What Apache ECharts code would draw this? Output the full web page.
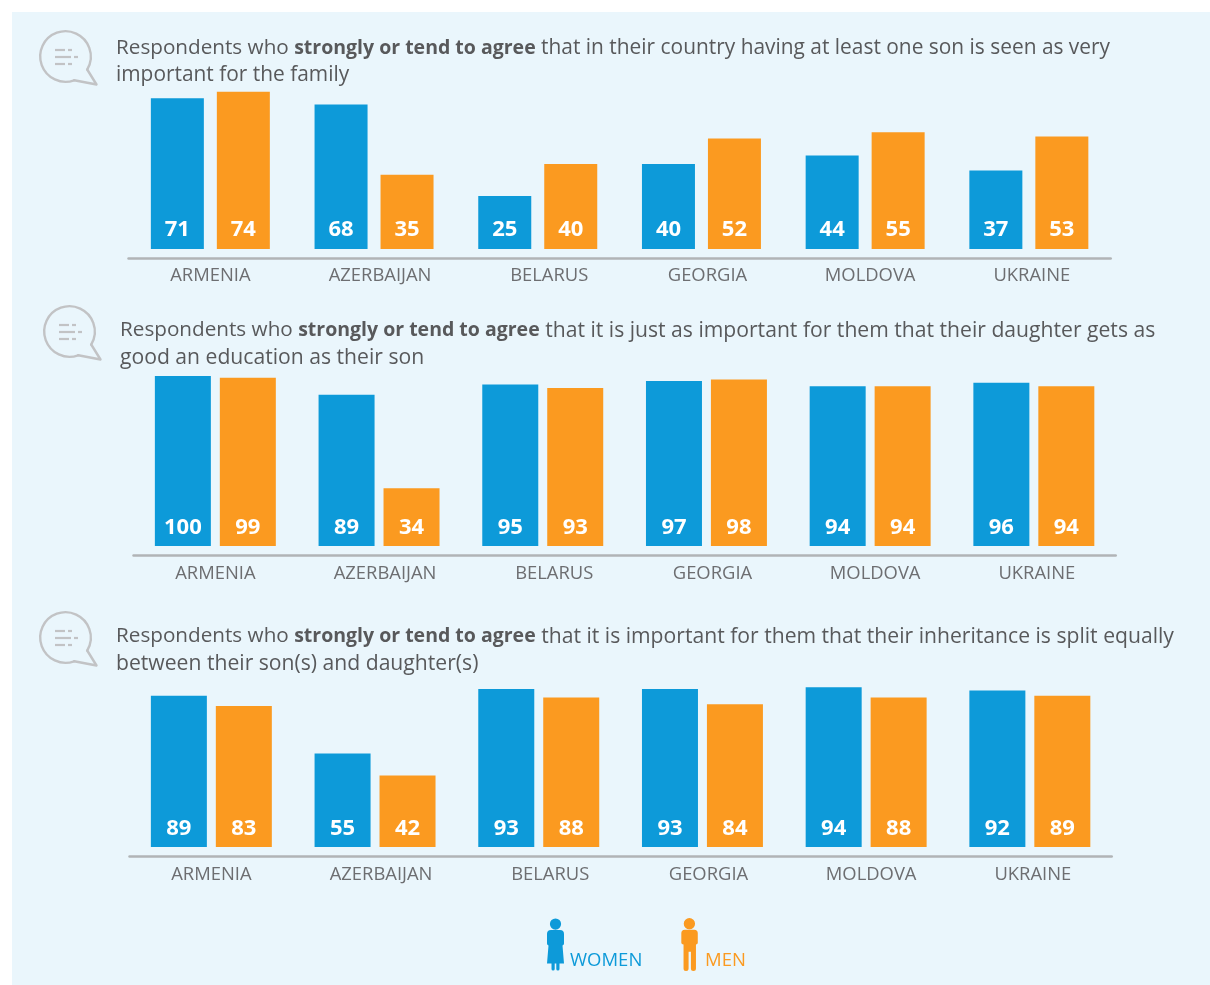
<!DOCTYPE html>
<html><head><meta charset="utf-8">
<style>html,body{margin:0;padding:0;background:#fff}#c{width:1210px;height:985px}</style>
<script src="https://cdn.jsdelivr.net/npm/echarts@6/dist/echarts.min.js"></script>
</head><body><div id="c"></div>
<script>
const categories = ['ARMENIA','AZERBAIJAN','BELARUS','GEORGIA','MOLDOVA','UKRAINE'];
const women1 = [71,68,25,40,44,37];
const men1   = [74,35,40,52,55,53];
const women2 = [100,89,95,97,94,96];
const men2   = [99,34,93,98,94,94];
const women3 = [89,55,93,93,94,92];
const men3   = [83,42,88,84,88,89];
const title1 = '{r|Respondents who }{b|strongly or tend to agree} that in their country having at least one son is seen as very\nimportant for the family';
const title2 = '{r|Respondents who }{b|strongly or tend to agree} that it is just as important for them that their daughter gets as\ngood an education as their son';
const title3 = '{r|Respondents who }{b|strongly or tend to agree} that it is important for them that their inheritance is split equally\nbetween their son(s) and daughter(s)';

const BLUE='#0d9ad9', ORANGE='#fb9a20', FONT='"Open Sans"';
const labelShift=[0,12,23,12,10,6];
const panels=[
 {left:128.5,top:79,height:170,max:80,barW:53,gap:'24.5%',dist:8,fs:20.9,margin:9,w:women1,m:men1,t:title1,tx:116,ty:35,bx:0,by:0},
 {left:133.5,top:376,height:170,max:100,barW:56,gap:'16%',dist:7,fs:21.15,margin:10,w:women2,m:men2,t:title2,tx:120,ty:317,bx:4,by:275},
 {left:129.5,top:677,height:170,max:100,barW:56,gap:'16%',dist:7,fs:21.15,margin:10,w:women3,m:men3,t:title3,tx:116,ty:623,bx:0,by:581}
];
const womanIcon='path://M8.5 0a5.6 5.6 0 1 1 0 11.2a5.6 5.6 0 1 1 0-11.2zM4 11.6H13a4 4 0 0 1 4 4V25q0 1.5-1.5 2L17 45H12.5V50.5a1.6 1.6 0 0 1-3.2 0V45H7.7V50.5a1.6 1.6 0 0 1-3.2 0V45H0L1.5 27Q0 26.5 0 25V15.6a4 4 0 0 1 4-4z';
const manIcon='path://M8 0a5.6 5.6 0 1 1 0 11.2a5.6 5.6 0 1 1 0-11.2zM3.5 11.6H12.8a3.5 3.5 0 0 1 3.5 3.5V24.500q0 1.500-1.800 1.700V50a2.500 2.500 0 0 1-5 0V33.500H7.200V50a2.500 2.500 0 0 1-5 0V26.200Q0 26 0 24.500V15.100a3.500 3.500 0 0 1 3.500-3.500z';

function bubble(dx,dy){
 const st={stroke:'#c2c3c5',lineWidth:2.4,fill:null,lineCap:'round',lineJoin:'round'};
 const dash=(x1,x2,y)=>({type:'line',shape:{x1,y1:y,x2,y2:y},style:{stroke:'#c2c3c5',lineWidth:2.2}});
 const rad=Math.PI/180;
 return {type:'group',x:dx,y:dy,silent:true,children:[
  {type:'arc',shape:{cx:65.5,cy:56.5,r:25.3,startAngle:70*rad,endAngle:391*rad,clockwise:true},style:st},
  {type:'polyline',shape:{points:[[87.2,69.5],[96.5,84.5],[74.2,80.3]]},style:st},
  dash(55,65,50),dash(68,72,50),dash(55,71,57),dash(74,78,57),dash(55,65,64),dash(68,72,64)
 ]};
}
const grid=[],xAxis=[],yAxis=[],series=[],title=[],bubbles=[];
panels.forEach((p,i)=>{
 grid.push({left:p.left,top:p.top,width:982.2,height:p.height});
 xAxis.push({type:'category',gridIndex:i,data:categories,offset:9,
  axisLine:{onZero:false,lineStyle:{color:'#b1b4b6',width:2.5}},axisTick:{show:false},
  axisLabel:{interval:0,margin:p.margin,formatter:(v,idx)=>'{n'+idx+'|'+v+'}',
   rich:Object.fromEntries(labelShift.map((s,k)=>['n'+k,{fontFamily:FONT,fontSize:18.4,color:'#6d6e71',padding:[0,0,0,s]}]))}});
 yAxis.push({type:'value',gridIndex:i,min:0,max:p.max,show:false});
 const lab={show:true,position:'insideBottom',distance:p.dist,color:'#fff',fontFamily:FONT,fontWeight:700,fontSize:22};
 series.push({name:'WOMEN',type:'bar',xAxisIndex:i,yAxisIndex:i,data:p.w,barWidth:p.barW,barGap:p.gap,itemStyle:{color:BLUE},label:lab,silent:true});
 series.push({name:'MEN',type:'bar',xAxisIndex:i,yAxisIndex:i,data:p.m,barWidth:p.barW,barGap:p.gap,itemStyle:{color:ORANGE},label:lab,silent:true});
 title.push({text:p.t,left:p.tx,top:p.ty,padding:0,textStyle:{fontFamily:FONT,fontSize:p.fs,fontWeight:400,color:'#58595b',lineHeight:27,
   rich:{r:{fontFamily:FONT,fontSize:20.7,color:'#58595b',lineHeight:27},b:{fontFamily:FONT,fontSize:19.5,fontWeight:700,color:'#58595b',lineHeight:27}}}});
 bubbles.push(bubble(p.bx,p.by));
});
const chart=echarts.init(document.getElementById('c'),null,{renderer:'canvas'});
chart.setOption({
 animation:false,backgroundColor:'#fff',
 graphic:[{type:'rect',z:-10,silent:true,shape:{x:12,y:12,width:1198,height:973},style:{fill:'#eaf6fc'}},...bubbles],
 title,grid,xAxis,yAxis,series,
 legend:{left:547,top:918,itemWidth:17,itemHeight:53,itemGap:39,selectedMode:false,padding:0,
  data:[{name:'WOMEN',icon:womanIcon},{name:'MEN',icon:manIcon}],
  formatter:n=>n==='WOMEN'?'{w|'+n+'}':'{m|'+n+'}',
  textStyle:{rich:{
    w:{fontFamily:FONT,fontSize:18.5,color:BLUE,padding:[32,0,0,1]},
    m:{fontFamily:FONT,fontSize:18.5,color:ORANGE,padding:[32,0,0,2]}}}}
});
</script></body></html>
